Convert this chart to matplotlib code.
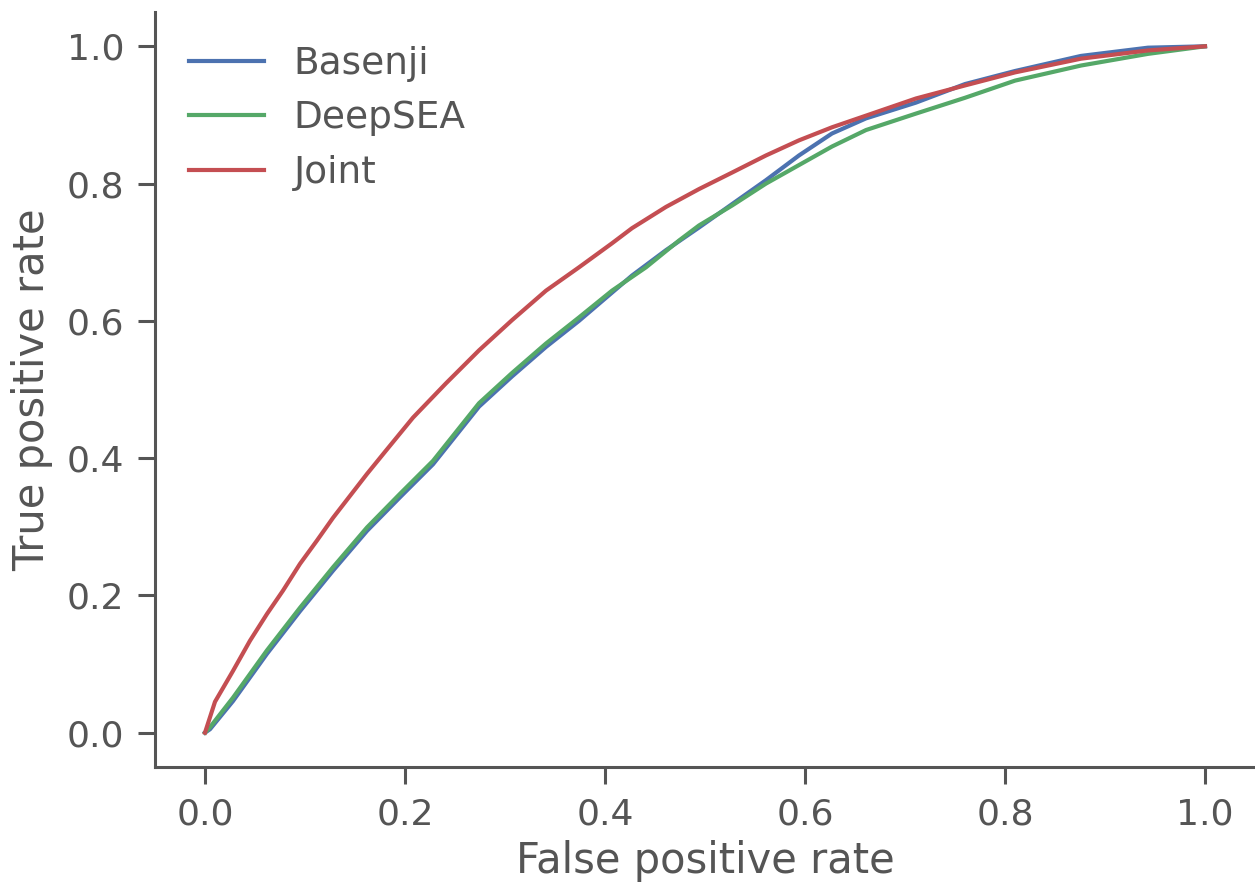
import matplotlib
matplotlib.use('Agg')
import matplotlib.pyplot as plt

# ROC curves
fpr_basenji = [0, 0.005, 0.028, 0.062, 0.095, 0.128, 0.162, 0.195, 0.228, 0.274, 0.307, 0.341,
               0.374, 0.427, 0.461, 0.494, 0.527, 0.561, 0.594, 0.627, 0.661, 0.711, 0.760,
               0.810, 0.876, 0.943, 1.0]
tpr_basenji = [0, 0.005, 0.046, 0.115, 0.177, 0.236, 0.294, 0.343, 0.391, 0.475, 0.519, 0.562,
               0.600, 0.666, 0.703, 0.736, 0.770, 0.805, 0.841, 0.873, 0.895, 0.918, 0.945,
               0.964, 0.986, 0.998, 1.0]

fpr_deepsea = [0, 0.005, 0.028, 0.062, 0.095, 0.128, 0.162, 0.195, 0.228, 0.274, 0.307, 0.341,
               0.374, 0.407, 0.441, 0.474, 0.494, 0.527, 0.561, 0.594, 0.627, 0.661, 0.711,
               0.760, 0.810, 0.876, 0.943, 1.0]
tpr_deepsea = [0, 0.008, 0.051, 0.120, 0.182, 0.241, 0.299, 0.348, 0.396, 0.480, 0.524, 0.567,
               0.605, 0.644, 0.678, 0.717, 0.739, 0.768, 0.800, 0.827, 0.854, 0.878, 0.902,
               0.925, 0.950, 0.972, 0.989, 1.0]

fpr_joint = [0, 0.01, 0.028, 0.045, 0.062, 0.078, 0.095, 0.112, 0.128, 0.145, 0.162, 0.181,
             0.208, 0.241, 0.274, 0.307, 0.341, 0.374, 0.407, 0.427, 0.461, 0.494, 0.527,
             0.561, 0.594, 0.627, 0.661, 0.711, 0.760, 0.810, 0.876, 0.943, 1.0]
tpr_joint = [0, 0.045, 0.090, 0.134, 0.173, 0.207, 0.246, 0.280, 0.313, 0.345, 0.377, 0.411,
             0.459, 0.509, 0.557, 0.601, 0.644, 0.678, 0.713, 0.735, 0.766, 0.792, 0.816,
             0.841, 0.863, 0.882, 0.899, 0.924, 0.943, 0.962, 0.982, 0.994, 1.0]

ticks = [0.0, 0.2, 0.4, 0.6, 0.8, 1.0]

text_color = '#555555'
plt.rcParams['font.family'] = 'DejaVu Sans'

fig = plt.figure(figsize=(12.55, 8.82), dpi=100)
ax = fig.add_axes([0.1235, 0.1304, 0.8765, 0.856])

ax.plot(fpr_basenji, tpr_basenji, color='#4C72B0', lw=3, label='Basenji')
ax.plot(fpr_deepsea, tpr_deepsea, color='#55A868', lw=3, label='DeepSEA')
ax.plot(fpr_joint, tpr_joint, color='#C44E52', lw=3, label='Joint')

ax.set_xlim(-0.05, 1.05)
ax.set_ylim(-0.05, 1.05)
ax.set_xticks(ticks)
ax.set_yticks(ticks)
ax.set_xlabel('False positive rate', fontsize=30, color=text_color, labelpad=6)
ax.set_ylabel('True positive rate', fontsize=30, color=text_color, labelpad=10)

for side in ['top', 'right']:
    ax.spines[side].set_visible(False)
for side in ['left', 'bottom']:
    ax.spines[side].set_color('#555555')
    ax.spines[side].set_linewidth(2.2)
ax.tick_params(axis='both', labelsize=26, colors='#555555', labelcolor=text_color,
               length=12, width=2.2, direction='out', pad=10)

leg = ax.legend(loc='upper left', frameon=False, fontsize=27, handlelength=2.0,
                handletextpad=0.8, labelspacing=0.5, borderaxespad=0.5,
                bbox_to_anchor=(0.0, 1.0))
for t in leg.get_texts():
    t.set_color(text_color)

fig.savefig('out.png', dpi=100)
